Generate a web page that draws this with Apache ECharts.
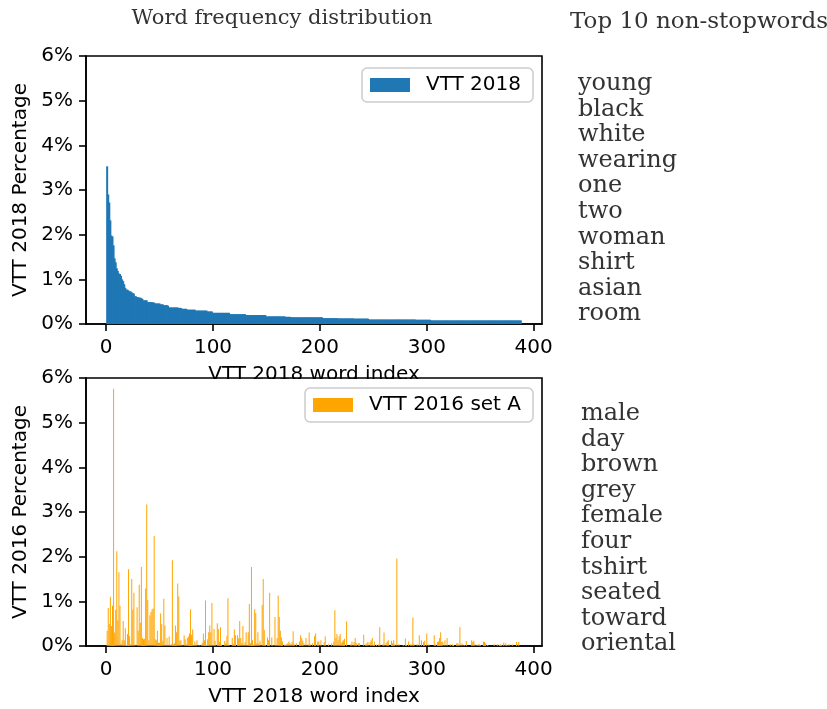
<!DOCTYPE html>
<html>
<head>
<meta charset="utf-8">
<script src="https://cdn.jsdelivr.net/npm/echarts@6/dist/echarts.min.js"></script>
<style>
  html, body { margin: 0; padding: 0; background: #fff; }
  #chart { width: 827px; height: 709px; }
</style>
</head>
<body>
<div id="chart"></div>
<script>
// Most frequent non-stopwords per dataset
const topWords2018 = ['young', 'black', 'white', 'wearing', 'one', 'two', 'woman', 'shirt', 'asian', 'room'];
const topWords2016 = ['male', 'day', 'brown', 'grey', 'female', 'four', 'tshirt', 'seated', 'toward', 'oriental'];

// x tick positions (word index)
const xTicks = [0, 100, 200, 300, 400];

// VTT 2018: share of each word (percent), words ranked 1..388 by 2018 frequency
const vtt2018 = [
  3.53, 2.90, 2.72, 2.32, 1.98, 1.96, 1.76, 1.47, 1.38, 1.25, 1.19, 1.13, 1.12, 1.08, 1.00, 0.96, 0.89, 0.81, 0.77, 0.77,
  0.75, 0.73, 0.73, 0.71, 0.69, 0.68, 0.62, 0.62, 0.60, 0.60, 0.59, 0.59, 0.58, 0.56, 0.53, 0.53, 0.53, 0.53, 0.49, 0.49,
  0.49, 0.49, 0.49, 0.48, 0.48, 0.46, 0.46, 0.46, 0.46, 0.46, 0.44, 0.44, 0.44, 0.42, 0.42, 0.42, 0.42, 0.41, 0.37, 0.37,
  0.37, 0.37, 0.37, 0.37, 0.37, 0.37, 0.37, 0.36, 0.36, 0.36, 0.34, 0.34, 0.34, 0.34, 0.34, 0.32, 0.32, 0.32, 0.32, 0.32,
  0.32, 0.32, 0.32, 0.30, 0.30, 0.30, 0.30, 0.30, 0.30, 0.30, 0.30, 0.30, 0.30, 0.30, 0.28, 0.28, 0.28, 0.28, 0.28, 0.25,
  0.25, 0.25, 0.25, 0.25, 0.25, 0.25, 0.25, 0.25, 0.25, 0.25, 0.25, 0.25, 0.25, 0.25, 0.25, 0.22, 0.22, 0.22, 0.22, 0.22,
  0.22, 0.22, 0.22, 0.22, 0.22, 0.22, 0.22, 0.22, 0.22, 0.22, 0.20, 0.20, 0.20, 0.20, 0.20, 0.20, 0.20, 0.20, 0.20, 0.20,
  0.20, 0.20, 0.20, 0.20, 0.20, 0.20, 0.20, 0.20, 0.20, 0.17, 0.17, 0.17, 0.17, 0.17, 0.17, 0.17, 0.17, 0.17, 0.17, 0.17,
  0.17, 0.17, 0.17, 0.17, 0.17, 0.17, 0.17, 0.16, 0.16, 0.16, 0.16, 0.16, 0.15, 0.15, 0.15, 0.15, 0.15, 0.15, 0.15, 0.15,
  0.15, 0.15, 0.15, 0.15, 0.15, 0.15, 0.15, 0.15, 0.15, 0.15, 0.15, 0.15, 0.15, 0.15, 0.15, 0.15, 0.15, 0.15, 0.15, 0.15,
  0.15, 0.15, 0.13, 0.13, 0.13, 0.13, 0.13, 0.13, 0.13, 0.13, 0.13, 0.13, 0.13, 0.13, 0.13, 0.13, 0.125, 0.125, 0.125, 0.125,
  0.125, 0.125, 0.125, 0.125, 0.125, 0.125, 0.125, 0.125, 0.125, 0.125, 0.125, 0.12, 0.12, 0.12, 0.12, 0.12, 0.12, 0.12, 0.12, 0.12,
  0.12, 0.12, 0.12, 0.12, 0.12, 0.10, 0.10, 0.10, 0.10, 0.10, 0.10, 0.10, 0.10, 0.10, 0.10, 0.10, 0.10, 0.10, 0.10, 0.10,
  0.10, 0.10, 0.10, 0.10, 0.10, 0.10, 0.10, 0.10, 0.10, 0.10, 0.10, 0.10, 0.10, 0.10, 0.10, 0.10, 0.10, 0.10, 0.10, 0.10,
  0.10, 0.10, 0.10, 0.10, 0.10, 0.10, 0.10, 0.10, 0.10, 0.095, 0.095, 0.095, 0.095, 0.095, 0.095, 0.095, 0.095, 0.095, 0.095, 0.095,
  0.095, 0.095, 0.095, 0.08, 0.08, 0.08, 0.08, 0.08, 0.08, 0.08, 0.08, 0.08, 0.08, 0.08, 0.08, 0.08, 0.08, 0.08, 0.08, 0.08,
  0.08, 0.08, 0.08, 0.08, 0.08, 0.08, 0.08, 0.08, 0.08, 0.08, 0.08, 0.08, 0.08, 0.08, 0.08, 0.08, 0.08, 0.08, 0.08, 0.08,
  0.08, 0.08, 0.08, 0.08, 0.08, 0.08, 0.08, 0.08, 0.08, 0.08, 0.08, 0.08, 0.08, 0.08, 0.08, 0.08, 0.08, 0.08, 0.08, 0.08,
  0.08, 0.08, 0.08, 0.08, 0.08, 0.08, 0.08, 0.08, 0.08, 0.08, 0.08, 0.08, 0.08, 0.08, 0.08, 0.08, 0.08, 0.08, 0.08, 0.08,
  0.08, 0.08, 0.08, 0.08, 0.08, 0.08, 0.08, 0.08
];

// VTT 2016 set A: share (percent) of the same words, in 2018 rank order
const vtt2016A = [
  0.34, 0.85, 0.49, 1.10, 0.45, 0.90, 5.76, 0.30, 0.81, 2.12,
  0.57, 1.65, 0.90, 0.05, 0.13, 0.56, 0.13, 0.40, 0.02, 0.27,
  1.72, 0.22, 0.04, 1.50, 0.81, 1.19, 0.03, 0, 0.87, 0.34,
  1.37, 0.52, 1.77, 0.18, 0.15, 0.16, 1.29, 3.17, 1.03, 0.13,
  0.69, 0.76, 0.82, 0.84, 2.46, 0.15, 0.13, 0.34, 0.07, 0.07,
  0.73, 0.49, 0.12, 1.06, 0.46, 0.02, 0.18, 0.03, 0.21, 0.02,
  0.04, 1.92, 0.04, 0.06, 0.46, 0.31, 1.40, 1.11, 0.12, 0.13,
  0.03, 0, 0.24, 0.15, 0.04, 0.18, 0.21, 0.28, 0.82, 0.25,
  0.37, 0.02, 0.10, 0.03, 0.13, 0, 0.02, 0, 0.03, 0.07,
  0.28, 0.13, 1.02, 0.02, 0.15, 0.31, 0.46, 0.31, 0.96, 0.02,
  0.38, 0.12, 0, 0.51, 0.38, 0.09, 0.42, 0.03, 0, 0,
  0.11, 0.06, 0.23, 1.07, 0.03, 0, 0, 0.18, 0.05, 0.37,
  0.24, 0, 0.24, 0.17, 0.56, 0.18, 0.06, 0.45, 0.03, 0.09,
  0.31, 0.02, 0.31, 0.94, 0.06, 1.77, 0.13, 0.03, 0.82, 0.74,
  0.06, 0.31, 0.06, 0.12, 0, 0.92, 1.50, 0.36, 0.02, 0,
  0.19, 0.13, 1.19, 0, 0.19, 0.02, 0, 0.65, 0.03, 0.18,
  1.13, 0.65, 0.34, 0.19, 0.10, 0, 0.03, 0.03, 0.04, 0.06,
  0.10, 0.06, 0.04, 0.09, 0.33, 0.04, 0, 0.06, 0, 0,
  0.10, 0.24, 0.18, 0.12, 0.06, 0, 0.18, 0, 0.04, 0.30,
  0.04, 0, 0.06, 0, 0.22, 0.28, 0, 0.10, 0.10, 0,
  0.13, 0, 0, 0.09, 0.22, 0, 0, 0.04, 0, 0,
  0.06, 0, 0.10, 0.80, 0.18, 0.27, 0.13, 0.22, 0.27, 0.07,
  0.10, 0.13, 0.16, 0, 0.55, 0, 0, 0, 0.04, 0.10,
  0, 0.09, 0.18, 0.07, 0, 0.06, 0.06, 0, 0, 0,
  0.25, 0, 0.04, 0.07, 0.09, 0, 0.09, 0.13, 0.18, 0.02,
  0.10, 0, 0.03, 0, 0.04, 0.42, 0, 0, 0.04, 0.30,
  0, 0.07, 0.10, 0.13, 0, 0, 0.12, 0.06, 0.13, 0.04,
  0, 1.96, 0, 0.04, 0, 0, 0, 0.02, 0, 0.17,
  0.03, 0, 0.10, 0, 0.04, 0.04, 0.64, 0.04, 0, 0,
  0.04, 0, 0.24, 0, 0.13, 0, 0.09, 0.12, 0, 0.28,
  0, 0.04, 0, 0, 0, 0, 0.24, 0.04, 0, 0.09,
  0.10, 0.18, 0.31, 0.09, 0.10, 0, 0.13, 0, 0.18, 0,
  0, 0.04, 0, 0.04, 0.02, 0, 0, 0.06, 0.06, 0.04,
  0.42, 0, 0.06, 0, 0.02, 0, 0.11, 0, 0, 0,
  0, 0.13, 0.09, 0.12, 0.04, 0, 0.02, 0.04, 0.04, 0.02,
  0, 0, 0.10, 0.09, 0.06, 0, 0.02, 0, 0, 0,
  0, 0, 0.04, 0, 0, 0.04, 0, 0.03, 0.04, 0.03,
  0, 0.08, 0, 0.06, 0.02, 0, 0.04, 0, 0, 0.04,
  0, 0, 0, 0.09, 0, 0.09, 0, 0
];

const SANS = 'DejaVu Sans';
const SERIF = 'DejaVu Serif';
const INK = '#000';

// pair each share with its 1-based word index
const toPoints = arr => arr.map((v, i) => [i + 1, v]);

function xAxisFor(gridIndex, name) {
  return {
    type: 'value', gridIndex,
    min: -18.8, max: 407.8,
    name, nameLocation: 'middle', nameGap: 41,
    nameTextStyle: { fontFamily: SANS, fontSize: 20, color: INK },
    axisLine: { show: true, onZero: false, lineStyle: { color: INK, width: 1.6 } },
    axisTick: { show: true, length: 7, lineStyle: { color: INK, width: 1.6 }, customValues: xTicks },
    axisLabel: { customValues: xTicks, fontFamily: SANS, fontSize: 20, color: INK, margin: 14 },
    splitLine: { show: false }
  };
}

function yAxisFor(gridIndex, name) {
  return {
    type: 'value', gridIndex,
    min: 0, max: 6, interval: 1,
    name, nameLocation: 'middle', nameGap: 47, nameRotate: 90,
    nameTextStyle: { fontFamily: SANS, fontSize: 20, color: INK },
    axisLine: { show: true, onZero: false, lineStyle: { color: INK, width: 1.6 } },
    axisTick: { show: true, length: 7, lineStyle: { color: INK, width: 1.6 } },
    axisLabel: { formatter: '{value}%', fontFamily: SANS, fontSize: 20, color: INK, margin: 13 },
    splitLine: { show: false }
  };
}

function legendFor(name, top) {
  return {
    data: [name], top, right: 294,
    orient: 'horizontal', selectedMode: false,
    icon: 'rect', itemWidth: 40, itemHeight: 14,
    padding: [6, 12, 6, 8],
    backgroundColor: 'rgba(255,255,255,0.85)',
    borderColor: '#cccccc', borderWidth: 1.5, borderRadius: 5,
    textStyle: { fontFamily: SANS, fontSize: 20, color: INK, padding: [0, 0, 0, 11], lineHeight: 22 }
  };
}

const graphics = [
  // lower plot frame hides the lower half of the upper x-axis title
  { type: 'rect', z: 1, shape: { x: 87, y: 379, width: 454, height: 9 }, style: { fill: '#fff' } },
  { type: 'text', z: 5, x: 282, y: 19,
    style: { text: 'Word frequency distribution', font: '21px "' + SERIF + '"', fill: '#333',
             textAlign: 'center', textVerticalAlign: 'middle', align: 'center', verticalAlign: 'middle' } },
  { type: 'text', z: 5, x: 570, y: 22,
    style: { text: 'Top 10 non-stopwords', font: '23px "' + SERIF + '"', fill: '#333',
             textAlign: 'left', textVerticalAlign: 'middle', align: 'left', verticalAlign: 'middle' } }
];

function wordList(words, x, y0) {
  words.forEach((w, i) => {
    graphics.push({
      type: 'text', z: 5, x, y: y0 + i * 25.56,
      style: { text: w, font: '24px "' + SERIF + '"', fill: '#333',
               textAlign: 'left', textVerticalAlign: 'middle', align: 'left', verticalAlign: 'middle' }
    });
  });
}
wordList(topWords2018, 578, 84);
wordList(topWords2016, 581, 414);

const chart = echarts.init(document.getElementById('chart'), null, { renderer: 'canvas' });
chart.setOption({
  animation: false,
  backgroundColor: '#fff',
  grid: [
    { left: 86, top: 56, width: 456, height: 268, show: true, borderColor: INK, borderWidth: 1.6, backgroundColor: 'transparent' },
    { left: 86, top: 378, width: 456, height: 268, show: true, borderColor: INK, borderWidth: 1.6, backgroundColor: 'transparent' }
  ],
  xAxis: [xAxisFor(0, 'VTT 2018 word index'), xAxisFor(1, 'VTT 2018 word index')],
  yAxis: [yAxisFor(0, 'VTT 2018 Percentage'), yAxisFor(1, 'VTT 2016 Percentage')],
  legend: [legendFor('VTT 2018', 68), legendFor('VTT 2016 set A', 388)],
  series: [
    { type: 'bar', name: 'VTT 2018', xAxisIndex: 0, yAxisIndex: 0, data: toPoints(vtt2018),
      barWidth: 2, itemStyle: { color: '#1f77b4' }, z: 2 },
    { type: 'bar', name: 'VTT 2016 set A', xAxisIndex: 1, yAxisIndex: 1, data: toPoints(vtt2016A),
      barWidth: 1, itemStyle: { color: '#ffa500' }, z: 2 }
  ],
  graphic: { elements: graphics }
});
</script>
</body>
</html>
